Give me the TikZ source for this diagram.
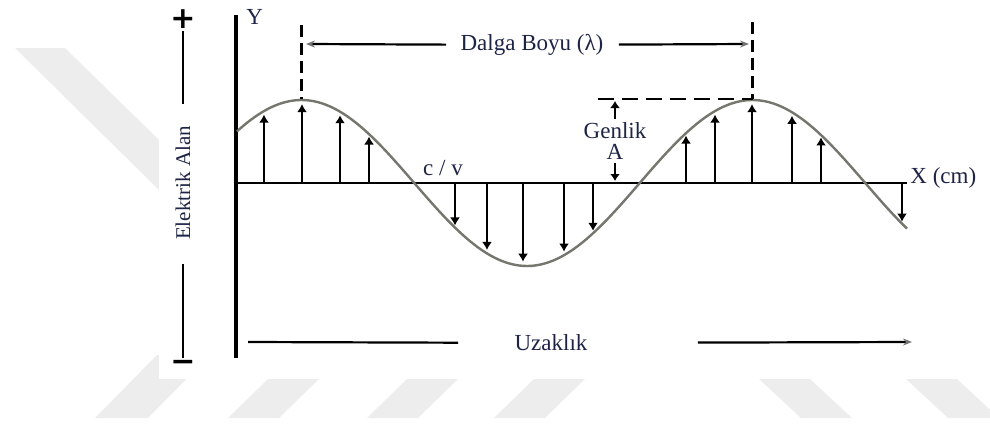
\documentclass[tikz,border=0pt]{standalone}
\usepackage{fontspec}
\setmainfont{Liberation Serif}
\newfontfamily\signfont{DejaVu Sans}
\usetikzlibrary{arrows.meta,positioning}
\definecolor{inkblue}{RGB}{30,36,70}
\definecolor{wavegray}{RGB}{118,118,110}
\definecolor{wmark}{RGB}{237,237,237}

\begin{document}
\begin{tikzpicture}[x=0.5pt, y=-0.5pt, font=\fontsize{11.5}{13}\selectfont,
    lbl/.style={text=inkblue, inner sep=2pt},
    sign/.style={font=\fontsize{15}{15}\signfont\bfseries, inner sep=1pt},
    vec/.style={line width=1.2pt, -{Latex[length=4pt,width=5pt]}},
    amparr/.style={line width=1.2pt, -{Latex[length=3.5pt,width=5pt]}},
    guide/.style={line width=1.1pt, dash pattern=on 6pt off 3pt},
    dimarr/.style={line width=1.1pt, -{Stealth[length=4.5pt,width=3.5pt,color=black!55]}},
    bar/.style={line width=1.3pt},
    declare function={wave(\t)=83*cos(0.798226*(\t-301.5));}]
  \useasboundingbox (0,0) rectangle (990,423);

  % watermark
  \fill[wmark] (15,48) -- (65,48) -- (159,140) -- (159,190) -- cycle;
  \fill[wmark] (95,418) -- (148,418) -- (210,355) -- (157,355) -- cycle;
  \foreach \b in {228,367,494}
    \fill[wmark] (\b,418) -- (\b+51,418) -- (\b+91,379) -- (\b+40,379) -- cycle;
  \foreach \b in {759,906}
    \fill[wmark] (\b,379) -- (\b+51,379) -- (\b+93,418) -- (\b+42,418) -- cycle;
  \fill[white] (159,0) rectangle (990,379);

  % axes
  \coordinate (ytop) at (236,15);
  \coordinate (ybot) at (236,358);
  \coordinate (o) at (236,183);
  \coordinate (xend) at (907,183);
  \draw[line width=1.9pt] (ytop) -- (ybot);
  \draw[line width=1.1pt] (o) -- (xend);
  \node[lbl, anchor=base west] (ylab) at (242,25) {Y};
  \node[lbl, anchor=base west] (xlab) at (906,183) {X (cm)};

  % wave and field vectors
  \draw[wavegray, line width=1.2pt] plot[domain=237:907, samples=160] (\x,{183-wave(\x)});
  \foreach \p in {264,302,340,369,455,487,523,564,593,686,715,752,792,821,902}
    \draw[vec] (\p,183) -- (\p,{183-0.95*wave(\p)});
  \node[lbl, anchor=base] (cv) at (443,175) {c / v};

  % wavelength
  \coordinate (pk1) at (301.5,99);
  \coordinate (pk2) at (752.5,99);
  \coordinate (d1) at (301.5,25);
  \coordinate (d2) at (752.5,22);
  \coordinate (hd) at (598,99);
  \draw[guide] (d1) -- (pk1);
  \draw[guide] (d2) -- (pk2);
  \draw[guide, dash pattern=on 8pt off 4pt] (hd) -- (pk2);
  \node[lbl] (dalga) at (532,45) {Dalga Boyu (λ)};
  \coordinate (lamL) at (306,44);
  \coordinate (lamR) at (749,44);
  \draw[dimarr, shorten <=5pt] (dalga) -- (lamL);
  \draw[dimarr, shorten <=5.5pt] (dalga) -- (lamR);

  % amplitude
  \node[lbl] (genlik) at (615,131) {Genlik};
  \node[lbl, below=-2pt of genlik] (ampA) {A};
  \coordinate (ampTop) at (615,101);
  \coordinate (ampBot) at (615,181);
  \draw[amparr] (genlik) -- (ampTop);
  \draw[amparr] (ampA) -- (ampBot);

  % field label
  \node[sign] (plus) at (183,19) {+};
  \node[sign] (minus) at (183,366) {−};
  \node[lbl, rotate=90, font=\fontsize{10.5}{12}\selectfont] (elab) at (183,183) {Elektrik Alan};
  \draw[bar, shorten >=9pt] (plus) -- (elab);
  \draw[bar, shorten <=10pt] (elab) -- (minus);

  % distance
  \node[lbl] (uzak) at (551,343) {Uzaklık};
  \coordinate (uL) at (248,342);
  \coordinate (uR) at (912,342);
  \draw[line width=1.1pt, shorten >=26pt] (uL) -- (uzak);
  \draw[dimarr, shorten <=53pt] (uzak) -- (uR);
\end{tikzpicture}
\end{document}
